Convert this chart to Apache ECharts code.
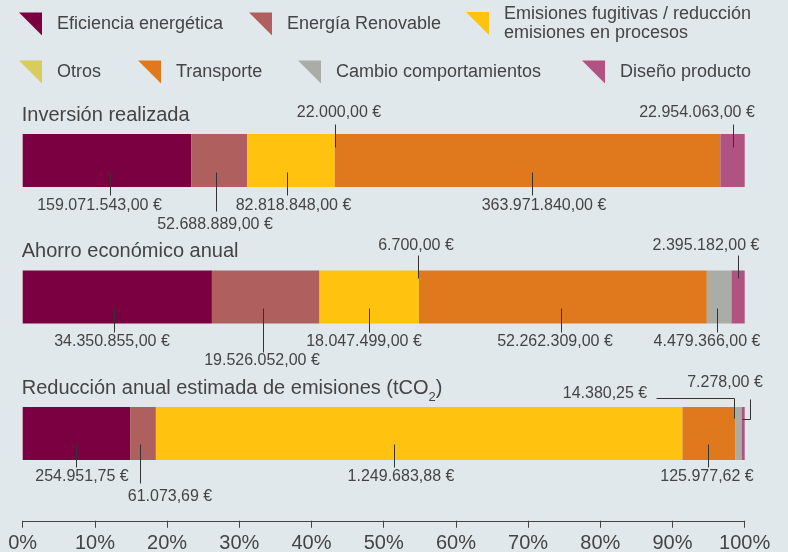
<!DOCTYPE html>
<html>
<head>
<meta charset="utf-8">
<script src="https://cdn.jsdelivr.net/npm/echarts@6/dist/echarts.min.js"></script>
<style>
  html, body { margin: 0; padding: 0; background: #e1e8eb; }
  #chart { width: 788px; height: 552px; }
</style>
</head>
<body>
<div id="chart"></div>
<script>
// datos
const categories = ['Inversión realizada', 'Ahorro económico anual', 'Reducción anual estimada de emisiones (tCO2)'];
const seriesNames = ['Eficiencia energética', 'Energía Renovable', 'Emisiones fugitivas / reducción emisiones en procesos',
  'Otros', 'Transporte', 'Cambio comportamientos', 'Diseño producto'];
const eficiencia = [159071543, 34350855, 254951.75];
const renovable = [52688889, 19526052, 61073.69];
const emisiones = [82818848, 18047499, 1249683.88];
const otros = [22000, 6700, 0];
const transporte = [363971840, 52262309, 125977.62];
const cambio = [0, 4479366, 14380.25];
const diseno = [22954063, 2395182, 7278];
const xTickLabels = ['0%', '10%', '20%', '30%', '40%', '50%', '60%', '70%', '80%', '90%', '100%'];

const values = [eficiencia, renovable, emisiones, otros, transporte, cambio, diseno];
const colors = ['#7b0042', '#b05f5f', '#ffc20f', '#d8cc5c', '#e0791e', '#aaaca6', '#b15382'];
const font = '"Liberation Sans", Arial, sans-serif';
const textColor = '#444';

// porcentajes por barra
const totals = categories.map((c, i) => values.reduce((s, arr) => s + arr[i], 0));
const pct = values.map(arr => arr.map((v, i) => v / totals[i] * 100));

function euro(v) {
  let parts = v.toFixed(2).split('.');
  return parts[0].replace(/\B(?=(\d{3})+(?!\d))/g, '.') + ',' + parts[1] + ' €';
}

// posicion de las etiquetas (relativas al centro del tramo y al borde de la barra)
const notes = [
  {c: 0, s: 0, e: 'b', pts: [[3, -15], [3, 8]], t: [-7.5, 19]},
  {c: 0, s: 1, e: 'b', pts: [[-3, -15], [-3, 24]], t: [-4, 38]},
  {c: 0, s: 2, e: 'b', pts: [[-4, -15], [-4, 8]], t: [2.5, 19]},
  {c: 0, s: 3, e: 't', pts: [[0, 13], [0, -10]], t: [4, -21]},
  {c: 0, s: 4, e: 'b', pts: [[4, -15], [4, 8]], t: [16, 19]},
  {c: 0, s: 6, e: 't', pts: [[0, 13], [0, -10]], t: [-36, -21]},
  {c: 1, s: 0, e: 'b', pts: [[-3, -16], [-3, 8]], t: [-5, 18]},
  {c: 1, s: 1, e: 'b', pts: [[-3, -16], [-3, 28]], t: [-4, 37]},
  {c: 1, s: 2, e: 'b', pts: [[0, -16], [0, 8]], t: [-5, 18]},
  {c: 1, s: 3, e: 't', pts: [[-1, 7], [-1, -16]], t: [-3, -25]},
  {c: 1, s: 4, e: 'b', pts: [[-2, -16], [-2, 8]], t: [-8, 18]},
  {c: 1, s: 5, e: 'b', pts: [[-2, -16], [-2, 8]], t: [-12, 18]},
  {c: 1, s: 6, e: 't', pts: [[0, 7], [0, -16]], t: [-32, -25]},
  {c: 2, s: 0, e: 'b', pts: [[0, -16], [0, 7]], t: [6, 17]},
  {c: 2, s: 1, e: 'b', pts: [[-3, -16], [-3, 23]], t: [27, 37]},
  {c: 2, s: 2, e: 'b', pts: [[-25, -16], [-25, 7]], t: [-18, 17]},
  {c: 2, s: 4, e: 'b', pts: [[-1, -16], [-1, 7]], t: [-2, 17]},
  {c: 2, s: 5, e: 't', pts: [[-5, 11], [-5, -9], [-83, -9]], t: [-134, -13]},
  {c: 2, s: 6, e: 't', pts: [[-1, 12], [7, 12], [7, -8]], t: [-18, -24]}
];

const legendPos = [[19, 10.5], [249, 10.5], [466, -1], [19, 58.5], [138, 58.5], [298, 58.5], [582, 58.5]];
const barH = 53;

let chart = echarts.init(document.getElementById('chart'));

let barSeries = seriesNames.map((name, k) => ({
  name: name,
  type: 'bar',
  stack: 'total',
  barWidth: barH,
  itemStyle: {color: colors[k]},
  emphasis: {disabled: true},
  data: pct[k]
}));

let legends = seriesNames.map((name, k) => ({
  data: [name],
  left: legendPos[k][0],
  top: legendPos[k][1],
  padding: 0,
  icon: 'path://M0 0 H10 V10 Z',
  itemWidth: 23,
  itemHeight: 23,
  selectedMode: false,
  formatter: n => n.replace('reducción ', 'reducción\n'),
  textStyle: {
    fontFamily: font, fontSize: 18, color: textColor, lineHeight: 19,
    padding: k === 2 ? [11, 0, 0, 10] : [0, 0, 8, 10]
  }
}));

function renderNote(params, api) {
  let n = notes[api.value(2)];
  let start = 0;
  for (let k = 0; k < n.s; k++) start += pct[k][n.c];
  let mid = start + pct[n.s][n.c] / 2;
  let p = api.coord([mid, n.c]);
  let ax = Math.round(p[0]);
  let ey = n.e === 'b' ? p[1] + barH / 2 : p[1] - barH / 2;
  let pts = n.pts.map(q => [ax + q[0] + 0.5, Math.round(ey + q[1]) + 0.5]);
  return {
    type: 'group',
    children: [{
      type: 'polyline',
      shape: {points: pts},
      style: {stroke: '#333', lineWidth: 1, fill: null}
    }, {
      type: 'text',
      x: ax + n.t[0],
      y: ey + n.t[1],
      style: {
        text: euro(values[n.s][n.c]),
        fill: textColor,
        fontFamily: font,
        fontSize: 16,
        align: 'center',
        verticalAlign: 'middle'
      }
    }]
  };
}

function renderTitle(params, api) {
  let cat = api.value(1);
  let p = api.coord([0, cat]);
  let txt = categories[cat].replace('tCO2', 'tCO{sub|2}');
  return {
    type: 'text',
    x: p[0] - 1,
    y: p[1] - barH / 2 - 19,
    style: {
      text: txt,
      fill: textColor,
      fontFamily: font,
      fontSize: 20,
      align: 'left',
      verticalAlign: 'middle',
      rich: {
        sub: {fontFamily: font, fontSize: 13, fill: textColor, verticalAlign: 'bottom', padding: [18, 0, 0, 0]}
      }
    }
  };
}

let option = {
  backgroundColor: '#e1e8eb',
  animation: false,
  legend: legends,
  grid: {left: 22.7, right: 43.3, top: 92.25, bottom: 50.25, outerBoundsMode: 'none'},
  xAxis: {
    type: 'value',
    min: 0,
    max: 100,
    interval: 10,
    offset: 19,
    splitLine: {show: false},
    axisLine: {show: true, lineStyle: {color: '#444', width: 1}},
    axisTick: {show: true, length: 7, lineStyle: {color: '#444'}},
    axisLabel: {
      formatter: v => xTickLabels[Math.round(v / 10)],
      fontFamily: font, fontSize: 20, color: '#444', margin: 13
    }
  },
  yAxis: {
    type: 'category',
    data: categories,
    inverse: true,
    show: false
  },
  series: barSeries.concat([{
    type: 'custom',
    name: 'etiquetas',
    renderItem: renderNote,
    clip: false,
    z: 5,
    silent: true,
    encode: {x: 0, y: 1},
    data: notes.map((n, i) => [0, n.c, i])
  }, {
    type: 'custom',
    name: 'titulos',
    renderItem: renderTitle,
    clip: false,
    z: 5,
    silent: true,
    encode: {x: 0, y: 1},
    data: categories.map((c, i) => [0, i])
  }])
};

chart.setOption(option);
</script>
</body>
</html>
